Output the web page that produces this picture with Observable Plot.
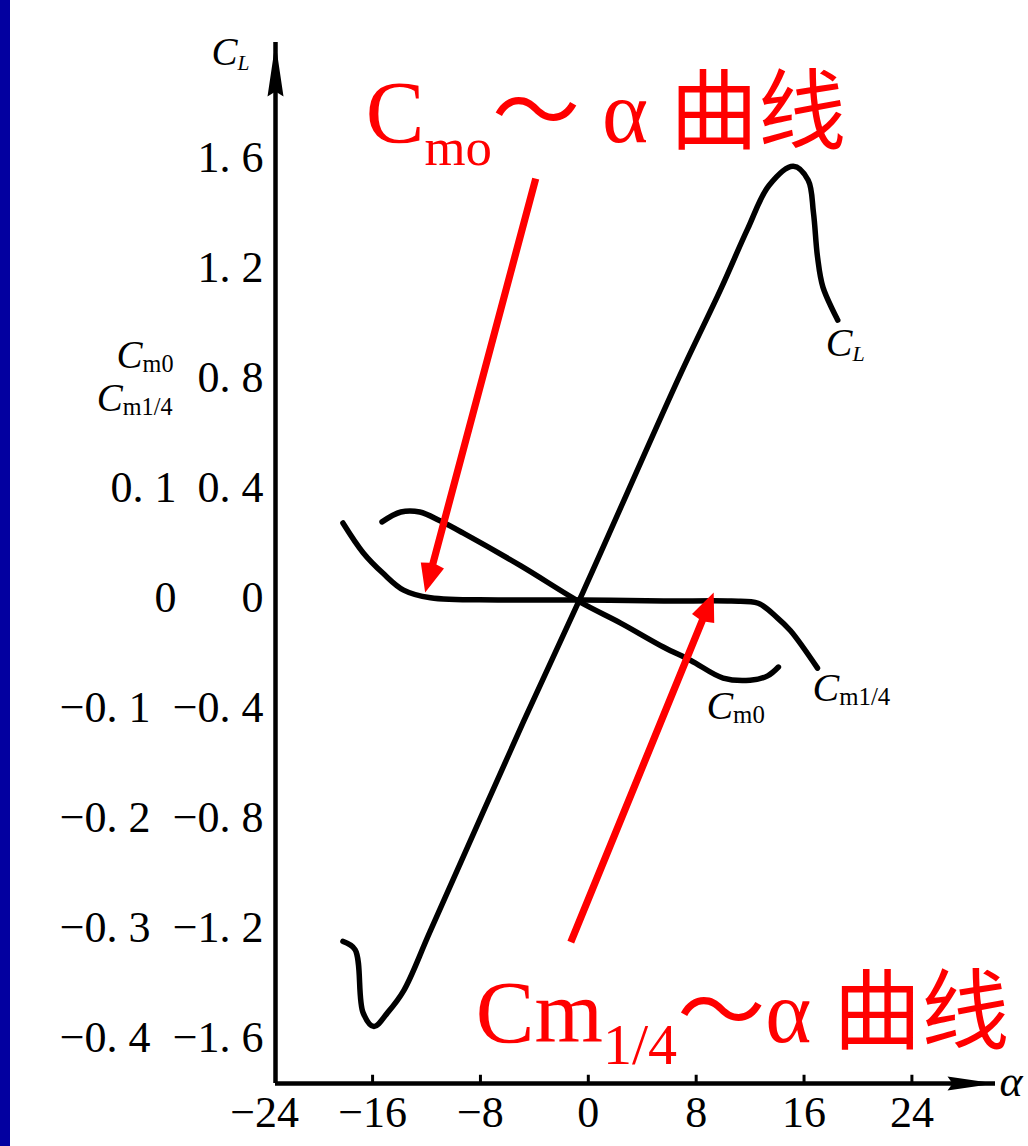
<!DOCTYPE html>
<html>
<head>
<meta charset="utf-8">
<script src="https://cdn.jsdelivr.net/npm/d3@7"></script>
<script src="https://cdn.jsdelivr.net/npm/@observablehq/plot@0.6"></script>
<style>
  html, body { margin: 0; padding: 0; background: #fff; }
  #wrap { position: relative; width: 1028px; height: 1146px; overflow: hidden; background: #fff; }
  #strip { position: absolute; left: 0; top: 0; width: 10px; height: 100%; background: #0300a0; }
  #wrap svg { display: block; }
</style>
</head>
<body>
<div id="wrap"><div id="strip"></div></div>
<script>
// Lift coefficient C_L versus angle of attack α (degrees)
const clAlpha = [-18.2, -17.3, -16.7, -15.9, -14.9, -13.7, -11.7, -4.8, -0.4, 6.8, 9.8, 11.8, 13.4, 15.2, 16.3, 16.7, 17.0, 17.4, 18.5];
const clValue = [-1.25, -1.28, -1.51, -1.56, -1.51, -1.43, -1.21, -0.45, 0.02, 0.81, 1.12, 1.34, 1.50, 1.57, 1.52, 1.40, 1.24, 1.13, 1.01];

// Pitching moment about the leading edge, C_m0
const cm0Alpha = [-15.3, -13.9, -12.5, -11.0, -9.3, -5.0, -0.6, 2.4, 5.6, 7.6, 10.0, 12.0, 13.3, 14.1];
const cm0Value = [0.069, 0.078, 0.078, 0.070, 0.059, 0.029, -0.004, -0.023, -0.045, -0.057, -0.073, -0.075, -0.071, -0.063];

// Pitching moment about the quarter chord, C_m1/4
const cmqAlpha = [-18.2, -16.7, -15.2, -13.7, -11.7, -6.7, -0.6, 5.6, 10.6, 12.6, 14.0, 15.0, 17.0];
const cmqValue = [0.068, 0.041, 0.022, 0.007, 0.000, -0.002, -0.002, -0.003, -0.003, -0.005, -0.018, -0.030, -0.064];

// Axis ticks
const xTicks = [-24, -16, -8, 0, 8, 16, 24];
const clTicks = [1.6, 1.2, 0.8, 0.4, 0, -0.4, -0.8, -1.2, -1.6];
const cmTicks = [0.1, 0, -0.1, -0.2, -0.3, -0.4];
const cmToCl = 4; // moment axis: 0.1 of C_m sits level with 0.4 of C_L

// Red call-outs: label text, arrow tail and arrow tip (α, C_L units)
const noteText = ["C_{mo}～ α 曲线", "Cm_{1/4}～α 曲线"];
const noteFromX = [-3.9, -1.3];
const noteFromY = [1.525, -1.253];
const noteToX = [-12.1, 9.3];
const noteToY = [0.019, 0.019];

// Layout
const W = 1028, H = 1146;
const margin = {top: 42, right: 33, bottom: 63, left: 275};
const xDomain = [-23.2, 30.2];
const yDomain = [-1.767, 2.02];
const kx = (W - margin.left - margin.right) / (xDomain[1] - xDomain[0]);
const ky = (H - margin.top - margin.bottom) / (yDomain[1] - yDomain[0]);

const cl = clAlpha.map((a, i) => ({alpha: a, v: clValue[i]}));
const cm0 = cm0Alpha.map((a, i) => ({alpha: a, v: cm0Value[i] * cmToCl}));
const cmq = cmqAlpha.map((a, i) => ({alpha: a, v: cmqValue[i] * cmToCl}));

const notes = noteText.map((t, i) => {
  const dxp = (noteToX[i] - noteFromX[i]) * kx;
  const dyp = (noteToY[i] - noteFromY[i]) * ky;
  return {
    text: t, x: noteFromX[i], y: noteFromY[i],
    length: Math.hypot(dxp, dyp),
    rotate: Math.atan2(dxp, dyp) * 180 / Math.PI
  };
});

const fmtNum = v => v === 0 ? "0" : (v < 0 ? "\u2212" : "") + Math.abs(v).toFixed(1).replace(".", ". ");
const fmtX = v => v < 0 ? "\u2212" + (-v) : String(v);

// Arrow shapes for the vector mark (drawn pointing up, tail at 0, tip at -l)
const calloutArrow = {
  draw(ctx, l) {
    const w = 3.6, hl = 30, hw = 12;
    ctx.moveTo(-w, 0);
    ctx.lineTo(-w, -l + hl);
    ctx.lineTo(-hw, -l + hl - 2);
    ctx.lineTo(0, -l);
    ctx.lineTo(hw, -l + hl - 2);
    ctx.lineTo(w, -l + hl);
    ctx.lineTo(w, 0);
    ctx.closePath();
  }
};
const axisHead = {
  draw(ctx, l, r) {
    ctx.moveTo(0, -l);
    ctx.lineTo(r, 0);
    ctx.lineTo(0, -5);
    ctx.lineTo(-r, 0);
    ctx.closePath();
  }
};

const serif = "'Liberation Serif', 'Times New Roman', serif";
const redFont = "'Liberation Serif', 'Noto Sans CJK SC', serif";
const labelSize = 44;
const tickText = {fontSize: labelSize, fontFamily: serif, stroke: "#000", strokeWidth: 0.6};
const curveStyle = {x: "alpha", y: "v", curve: "catmull-rom", stroke: "#000", strokeWidth: 5.5, strokeLinecap: "round", strokeLinejoin: "round"};

const chart = Plot.plot({
  width: W,
  height: H,
  marginTop: margin.top,
  marginRight: margin.right,
  marginBottom: margin.bottom,
  marginLeft: margin.left,
  style: {background: "transparent", color: "#000", overflow: "visible"},
  x: {domain: xDomain},
  y: {domain: yDomain},
  length: {type: "identity"},
  marks: [
    // axes lines with arrowheads
    Plot.ruleY([yDomain[0]], {strokeWidth: 4.5}),
    Plot.ruleX([xDomain[0]], {strokeWidth: 4.5}),
    Plot.vector([{x: xDomain[0], y: yDomain[1]}], {x: "x", y: "y", anchor: "end", rotate: 0, length: 54, r: 8, shape: axisHead, fill: "#000", stroke: "none"}),
    Plot.vector([{x: xDomain[1], y: yDomain[0]}], {x: "x", y: "y", anchor: "end", rotate: 90, length: 48, r: 7, shape: axisHead, fill: "#000", stroke: "none"}),
    // small upward ticks on the α axis
    Plot.ruleX(xTicks.filter(t => t > xDomain[0]), {y1: () => yDomain[0], y2: () => yDomain[0] + 0.03, strokeWidth: 3}),
    Plot.axisX({ticks: xTicks, tickSize: 0, tickPadding: 12, tickFormat: fmtX, label: null, ...tickText}),
    // C_L tick labels
    Plot.axisY({ticks: clTicks, tickSize: 0, tickPadding: 12, tickFormat: fmtNum, label: null, ...tickText}),
    // C_m tick labels, set in a second column
    Plot.axisY({ticks: cmTicks.filter(c => c >= 0).map(c => c * cmToCl), tickSize: 0, tickPadding: 12, dx: -87, tickFormat: v => fmtNum(Math.round(v / cmToCl * 10) / 10), label: null, ...tickText}),
    Plot.axisY({ticks: cmTicks.filter(c => c < 0).map(c => c * cmToCl), tickSize: 0, tickPadding: 12, dx: -113, tickFormat: v => fmtNum(Math.round(v / cmToCl * 10) / 10), label: null, ...tickText}),
    // axis titles
    Plot.text([{x: xDomain[0], y: yDomain[1]}], {x: "x", y: "y", text: () => "C_{L}", textAnchor: "start", dx: -64, dy: 10, fontSize: 39, fontStyle: "italic", fontFamily: serif}),
    Plot.text([{x: xDomain[0], y: 0.8}], {x: "x", y: "y", text: () => "C_{m0}", textAnchor: "end", dx: -102, dy: -22, fontSize: 39, fontStyle: "italic", fontFamily: serif}),
    Plot.text([{x: xDomain[0], y: 0.8}], {x: "x", y: "y", text: () => "C_{m1/4}", textAnchor: "end", dx: -103, dy: 21, fontSize: 39, fontStyle: "italic", fontFamily: serif}),
    Plot.text([{x: xDomain[1], y: yDomain[0]}], {x: "x", y: "y", text: () => "α", textAnchor: "start", dx: 4, dy: -2, fontSize: 44, fontStyle: "italic", fontFamily: serif}),
    // curves
    Plot.line(cm0, curveStyle),
    Plot.line(cmq, curveStyle),
    Plot.line(cl, curveStyle),
    // curve labels at the end of each curve
    Plot.text([cl[cl.length - 1]], {x: "alpha", y: "v", text: () => "C_{L}", textAnchor: "start", dx: -12, dy: 23, fontSize: 40, fontStyle: "italic", fontFamily: serif}),
    Plot.text([cm0[cm0.length - 1]], {x: "alpha", y: "v", text: () => "C_{m0}", textAnchor: "start", dx: -72, dy: 39, fontSize: 40, fontStyle: "italic", fontFamily: serif}),
    Plot.text([cmq[cmq.length - 1]], {x: "alpha", y: "v", text: () => "C_{m1/4}", textAnchor: "start", dx: -5, dy: 20, fontSize: 40, fontStyle: "italic", fontFamily: serif}),
    // red call-outs
    Plot.vector(notes, {x: "x", y: "y", length: "length", rotate: "rotate", anchor: "start", shape: calloutArrow, fill: "#ff0000", stroke: "none"}),
    Plot.text([notes[0]], {x: "x", y: "y", text: "text", textAnchor: "start", dx: -170, dy: -65, fontSize: 88, fill: "#ff0000", fontFamily: redFont}),
    Plot.text([notes[1]], {x: "x", y: "y", text: "text", textAnchor: "start", dx: -95, dy: 72, fontSize: 88, fill: "#ff0000", fontFamily: redFont})
  ]
});

// Subscripts: "A_{sub}B" becomes A, lowered smaller sub, then B back on the baseline
const subStyle = {
  "L": {size: 0.55, shift: 0.12, italic: true},
  "m0": {size: 0.62, shift: 0.1},
  "m1/4": {size: 0.62, shift: 0.1},
  "mo": {size: 0.6, shift: 0.27},
  "1/4": {size: 0.66, shift: 0.25}
};
const NS = "http://www.w3.org/2000/svg";
chart.querySelectorAll("text").forEach(t => {
  const m = t.textContent.match(/^(.*?)_\{(.*?)\}(.*)$/);
  if (!m) return;
  const st = subStyle[m[2]] || {size: 0.6, shift: 0.15};
  while (t.firstChild) t.removeChild(t.firstChild);
  const a = document.createElementNS(NS, "tspan");
  a.textContent = m[1];
  t.appendChild(a);
  const s = document.createElementNS(NS, "tspan");
  s.textContent = m[2];
  s.setAttribute("font-size", st.size + "em");
  s.setAttribute("dy", (st.shift / st.size).toFixed(3) + "em");
  if (!st.italic) s.setAttribute("font-style", "normal");
  t.appendChild(s);
  if (m[3]) {
    const b = document.createElementNS(NS, "tspan");
    b.textContent = m[3];
    b.setAttribute("dy", (-st.shift).toFixed(3) + "em");
    t.appendChild(b);
  }
});

document.getElementById("wrap").prepend(chart);
</script>
</body>
</html>
